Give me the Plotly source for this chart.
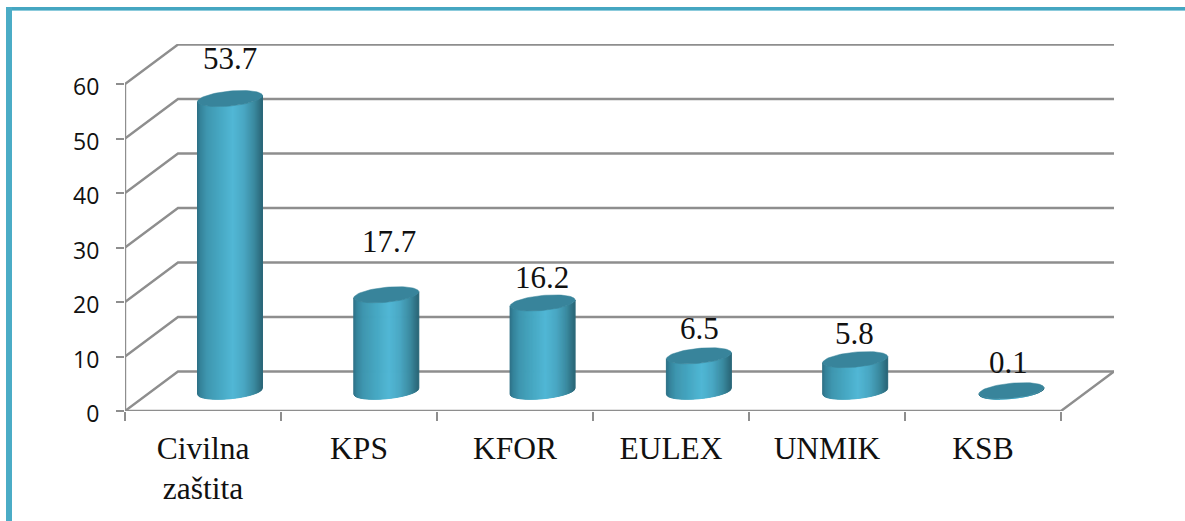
import math
import plotly.graph_objects as go

categories = ["Civilna<br>zaštita", "KPS", "KFOR", "EULEX", "UNMIK", "KSB"]
values = [53.7, 17.7, 16.2, 6.5, 5.8, 0.1]
value_labels = ["53.7", "17.7", "16.2", "6.5", "5.8", "0.1"]
y_ticks = [0, 10, 20, 30, 40, 50, 60]

# figure geometry (pixels)
W, H = 1185, 521
L, R, T, B = 125, 71, 44, 110
PX_X = 156.0   # pixels per category
PX_Y = 5.45    # pixels per value unit
DEPTH_X = 53 / PX_X
DEPTH_Y = 39.5 / PX_Y

# cylinder proportions, data units
CX_OFF = 105.0 / PX_X
CX_STEP = 156.3 / PX_X
BASE_OFF = DEPTH_Y / 2
A = 32.5 / PX_X
BE = 7.5 / PX_Y
SH = 3.0 / PX_Y
label_lift = [40, 53, 25, 27, 26, 28]  # px above the cylinder's top centre
label_dx = [0, 3, -1, 1, -1, -3]

GRID = "#8e8e8e"
BANDS = 65
STOPS = [(0.0, (44, 110, 130)), (0.05, (52, 130, 153)), (0.15, (62, 150, 175)),
         (0.35, (70, 167, 194)), (0.55, (81, 183, 213)), (0.72, (73, 167, 195)),
         (0.88, (58, 137, 159)), (1.0, (42, 102, 119))]
TOP = "#38849b"


def shade(f):
    for (a, ca), (b, cb) in zip(STOPS, STOPS[1:]):
        if f <= b:
            k = (f - a) / (b - a)
            return "rgb(%d,%d,%d)" % tuple(round(p + (q - p) * k) for p, q in zip(ca, cb))
    return "rgb(%d,%d,%d)" % STOPS[-1][1]


def line(xs, ys):
    return go.Scatter(x=xs, y=ys, mode="lines", line=dict(color=GRID, width=2.4),
                      hoverinfo="skip", showlegend=False, cliponaxis=False)


n = len(categories)
fig = go.Figure()

# walls / floor
for v in y_ticks:
    fig.add_trace(line([0, DEPTH_X, n + DEPTH_X], [v, v + DEPTH_Y, v + DEPTH_Y]))
fig.add_trace(line([0, 0], [0, y_ticks[-1]]))
fig.add_trace(line([0, n, n + DEPTH_X], [0, 0, DEPTH_Y]))


def arc(f):
    u = 2 * f - 1
    return u, -BE * math.sqrt(max(0, 1 - u * u)) + SH * u


# cylinder sides: one trace per colour band
for k in range(BANDS):
    f0, f1 = k / BANDS, (k + 1) / BANDS
    xs, ys = [], []
    for i, v in enumerate(values):
        cx = i * CX_STEP + CX_OFF
        base = BASE_OFF
        u0, d0 = arc(f0)
        u1, d1 = arc(f1)
        xs += [cx + A * u0, cx + A * u1, cx + A * u1, cx + A * u0, cx + A * u0, None]
        ys += [base + d0, base + d1, base + v + d1, base + v + d0, base + d0, None]
    col = shade((f0 + f1) / 2)
    fig.add_trace(go.Scatter(x=xs, y=ys, mode="lines", fill="toself", fillcolor=col,
                             line=dict(color=col, width=1), hoverinfo="skip",
                             showlegend=False, cliponaxis=False))

# cylinder tops
xs, ys = [], []
for i, v in enumerate(values):
    cx = i * CX_STEP + CX_OFF
    for j in range(73):
        t = 2 * math.pi * j / 72
        xs.append(cx + A * math.cos(t))
        ys.append(BASE_OFF + v + BE * math.sin(t) + SH * math.cos(t))
    xs.append(None)
    ys.append(None)
fig.add_trace(go.Scatter(x=xs, y=ys, mode="lines", fill="toself", fillcolor=TOP,
                         line=dict(color=TOP, width=0.5), hoverinfo="skip",
                         showlegend=False, cliponaxis=False))

for i, v in enumerate(values):
    fig.add_annotation(x=i * CX_STEP + CX_OFF, y=BASE_OFF + v, xref="x", yref="y",
                       text=value_labels[i], showarrow=False, yshift=label_lift[i],
                       xshift=label_dx[i],
                       font=dict(family="Liberation Serif", size=31, color="#111111"))


def px(x):
    return (x - L) / (W - L - R)


def py(y):
    return 1 - (y - T) / (H - T - B)


# outer frame
FRAME = "#4bacc6"
fig.add_shape(type="rect", xref="paper", yref="paper", x0=px(6), x1=px(W), y0=py(10), y1=py(7),
              fillcolor="#45a6c1", line_width=0, layer="below")
fig.add_shape(type="rect", xref="paper", yref="paper", x0=px(12), x1=px(W), y0=py(11), y1=py(10),
              fillcolor="#8ccbdc", line_width=0, layer="below")
fig.add_shape(type="rect", xref="paper", yref="paper", x0=px(6), x1=px(12), y0=py(H), y1=py(7),
              fillcolor=FRAME, line_width=0, layer="below")

fig.update_layout(
    width=W, height=H, autosize=False,
    margin=dict(l=L, r=R, t=T, b=B, pad=0),
    paper_bgcolor="white", plot_bgcolor="white",
    xaxis=dict(range=[0, n + DEPTH_X], tickmode="array",
               tickvals=[i + 0.5 for i in range(n)], ticktext=categories,
               ticks="", showgrid=False, zeroline=False, showline=False,
               tickangle=0, ticklabelstandoff=15,
               tickfont=dict(family="Liberation Serif", size=31.5, color="#111111"),
               minor=dict(tickmode="array", tickvals=list(range(n + 1)), ticks="outside",
                          ticklen=9, tickwidth=2, tickcolor=GRID, showgrid=False)),
    yaxis=dict(range=[0, (H - T - B) / PX_Y], tickmode="array", tickvals=y_ticks,
               ticks="outside", ticklen=8, tickwidth=2, tickcolor=GRID,
               showgrid=False, zeroline=False, showline=False, ticklabelstandoff=12,
               ticklabelshift=3,
               tickfont=dict(family="Open Sans", size=23, color="#111111")),
    showlegend=False,
)

fig.write_html("out.html", config={"displayModeBar": False},
               post_script="document.body.style.margin='0';document.body.style.overflow='hidden';")
